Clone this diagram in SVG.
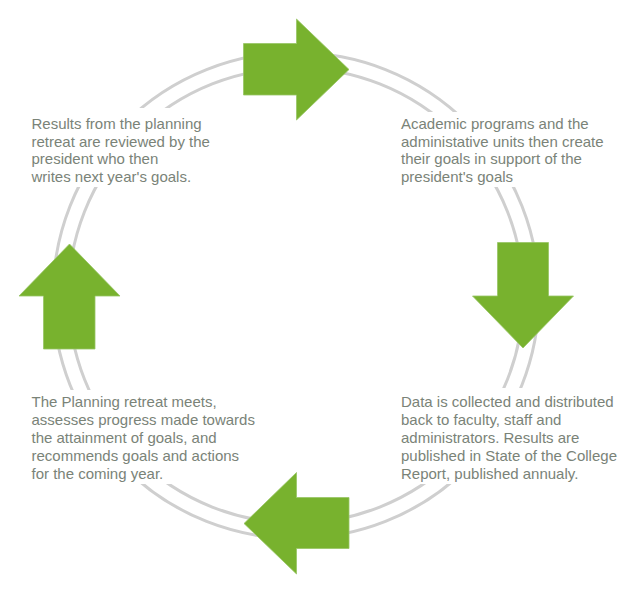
<svg xmlns="http://www.w3.org/2000/svg" width="640" height="591" viewBox="0 0 640 591">
<style>
.ring{fill:none;stroke:#cfcfcf;stroke-width:3}
.arrow{fill:#78b22e;stroke:#98c565;stroke-width:0.8}
.bg{fill:#ffffff}
.t{font-family:"Liberation Sans",Arial,sans-serif;font-size:15px;fill:#7a8378}
</style>
<rect width="640" height="591" fill="#ffffff"/>
<g id="connectors">
<circle class="ring" cx="296" cy="295.5" r="243"/>
<circle class="ring" cx="296" cy="295.5" r="227.5"/>
</g>
<g id="arrow-top"><polygon class="arrow" points="243.5,43.5 296.5,43.5 296.5,19 349,69.5 296.5,120 296.5,95 243.5,95"/></g>
<g id="arrow-right"><polygon class="arrow" points="497.5,242.5 548.5,242.5 548.5,296 573.5,296 523,348 472.5,296 497.5,296"/></g>
<g id="arrow-bottom"><polygon class="arrow" points="349,497.5 349,548.5 296.5,548.5 296.5,574 244,523.5 296.5,472.5 296.5,497.5"/></g>
<g id="arrow-left"><polygon class="arrow" points="43.5,349 95,349 95,296 120,296 69.5,244 19,296 43.5,296"/></g>
<g id="text-top-left">
<rect class="bg" x="25" y="108" width="200" height="79"/>
<text class="t" x="31.5"><tspan x="31.5" y="129">Results from the planning</tspan><tspan x="31.5" y="146.7">retreat are reviewed by the</tspan><tspan x="31.5" y="164.4">president who then</tspan><tspan x="31.5" y="182">writes next year's goals.</tspan></text>
</g>
<g id="text-top-right">
<rect class="bg" x="395" y="112" width="225" height="75"/>
<text class="t" x="401"><tspan x="401" y="129">Academic programs and the</tspan><tspan x="401" y="146.7">administative units then create</tspan><tspan x="401" y="164.4">their goals in support of the</tspan><tspan x="401" y="182">president's goals</tspan></text>
</g>
<g id="text-bottom-left">
<rect class="bg" x="25" y="390" width="235" height="94"/>
<text class="t" x="31.5"><tspan x="31.5" y="407">The Planning retreat meets,</tspan><tspan x="31.5" y="425">assesses progress made towards</tspan><tspan x="31.5" y="443">the attainment of goals, and</tspan><tspan x="31.5" y="461">recommends goals and actions</tspan><tspan x="31.5" y="479">for the coming year.</tspan></text>
</g>
<g id="text-bottom-right">
<rect class="bg" x="395" y="388" width="230" height="96"/>
<text class="t" x="401"><tspan x="401" y="407">Data is collected and distributed</tspan><tspan x="401" y="425">back to faculty, staff and</tspan><tspan x="401" y="443">administrators. Results are</tspan><tspan x="401" y="461">published in State of the College</tspan><tspan x="401" y="479">Report, published annualy.</tspan></text>
</g>
</svg>
